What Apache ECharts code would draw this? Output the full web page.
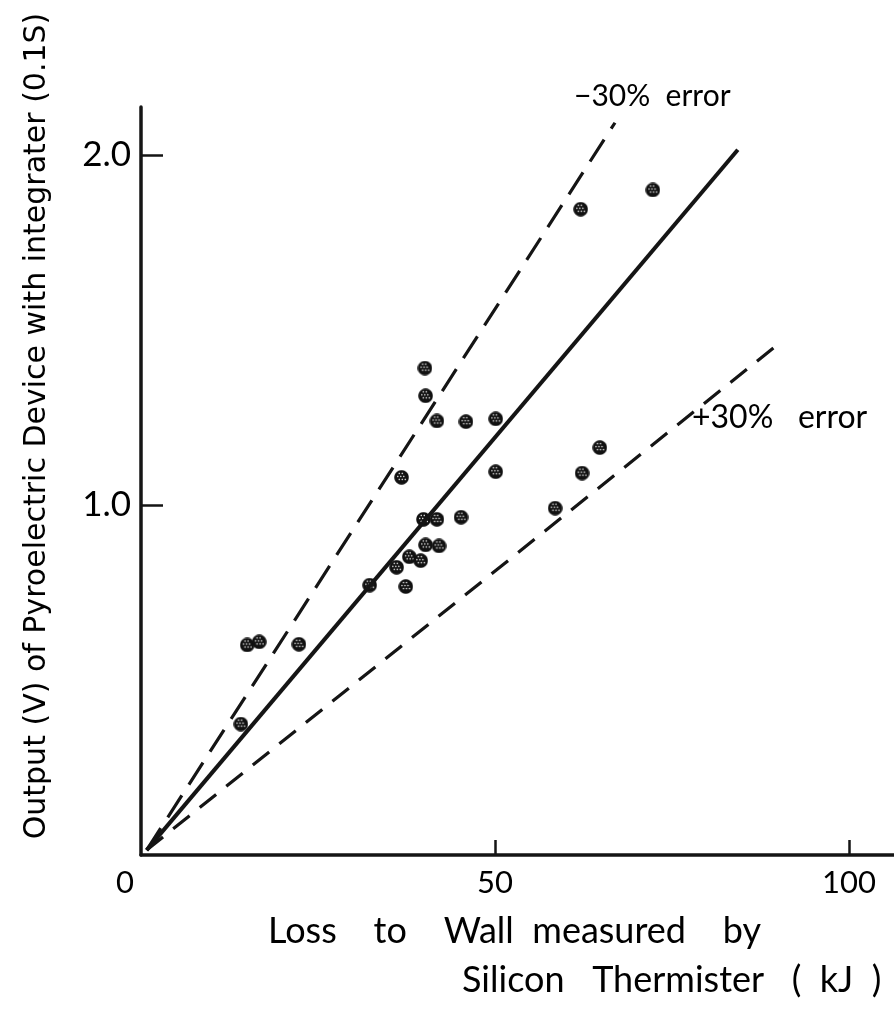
<!DOCTYPE html>
<html>
<head>
<meta charset="utf-8">
<script src="https://cdn.jsdelivr.net/npm/echarts@6/dist/echarts.min.js"></script>
<style>
html,body{margin:0;padding:0;background:#fff;}
#chart{width:894px;height:1018px;}
</style>
</head>
<body>
<div id="chart"></div>
<script>
// ---- data ----
const xTickValues = [0, 50, 100];
const yTickValues = [1.0, 2.0];
const lossToWall = [40.1, 40.2, 41.8, 45.9, 50.1, 50.1, 36.8, 39.9, 41.8, 45.2, 40.2, 42.1, 37.9, 39.5, 36.1, 32.3, 37.4, 64.8, 62.3, 58.5, 72.3, 62.1, 15.0, 16.7, 22.3, 14.1];
const pyroOutput = [1.391, 1.312, 1.240, 1.238, 1.246, 1.095, 1.079, 0.959, 0.959, 0.965, 0.886, 0.883, 0.852, 0.841, 0.822, 0.771, 0.767, 1.164, 1.091, 0.991, 1.900, 1.845, 0.600, 0.609, 0.602, 0.374];
const lineStart = [0.8, 0.014];
const fitEnd = [84.3, 2.015];
const minus30End = [66.95, 2.092];
const plus30End = [89.55, 1.452];
const xTitleLine1 = 'Loss    to    Wall  measured    by';
const xTitleLine2 = 'Silicon   Thermister   (  kJ  )';
const yTitle = 'Output (V) of Pyroelectric Device with integrater (0.1S)';
const minus30Label = '\u221230%  error';
const plus30Label = '+30%   error';

// stippled dot marker (dark disc with small white holes)
const S = 30;
const mc = document.createElement('canvas');
mc.width = S; mc.height = S;
const mctx = mc.getContext('2d');
mctx.fillStyle = '#111';
mctx.beginPath(); mctx.arc(S / 2, S / 2, S / 2 - 0.5, 0, Math.PI * 2); mctx.fill();
mctx.fillStyle = '#fff';
for (let gy = 7; gy < S - 4; gy += 6) {
  for (let gx = 7 + ((gy / 6) % 2) * 3; gx < S - 4; gx += 6) {
    const dx = gx - S / 2, dy = gy - S / 2;
    if (dx * dx + dy * dy < (S / 2 - 5) * (S / 2 - 5)) {
      mctx.beginPath(); mctx.arc(gx, gy, 1.5, 0, Math.PI * 2); mctx.fill();
    }
  }
}
const markerSymbol = 'image://' + mc.toDataURL();

const points = lossToWall.map((x, i) => [x, pyroOutput[i]]);
const ink = '#151515';
const font = 'Lato, "DejaVu Sans", sans-serif';

const chart = echarts.init(document.getElementById('chart'));
chart.setOption({
  animation: false,
  backgroundColor: '#fff',
  grid: {left: 141, right: 0, top: 107, bottom: 163, containLabel: false},
  xAxis: {
    type: 'value', min: 0, max: 106.36,
    axisLine: {lineStyle: {color: ink, width: 3.5}},
    splitLine: {show: false},
    axisTick: {show: true, inside: true, length: 15, customValues: [50, 100], lineStyle: {color: ink, width: 2.5}},
    axisLabel: {
      customValues: xTickValues, margin: 12,
      color: '#000', fontFamily: font, fontSize: 31,
      formatter: v => v === 0 ? '{z|0}' : String(v),
      rich: {z: {fontFamily: font, fontSize: 31, color: '#000', padding: [0, 32, 0, 0]}}
    }
  },
  yAxis: {
    type: 'value', min: 0, max: 2.137,
    axisLine: {lineStyle: {color: ink, width: 3.5}},
    splitLine: {show: false},
    axisTick: {show: true, inside: true, length: 22, customValues: yTickValues, lineStyle: {color: ink, width: 2.5}},
    axisLabel: {
      customValues: yTickValues, margin: 10,
      color: '#000', fontFamily: font, fontSize: 35,
      formatter: v => v.toFixed(1)
    }
  },
  series: [
    {type: 'line', data: [lineStart, fitEnd], showSymbol: false, symbol: 'none',
     lineStyle: {color: ink, width: 4, type: 'solid'}},
    {type: 'line', data: [lineStart, minus30End], showSymbol: false, symbol: 'none',
     lineStyle: {color: ink, width: 3.2, type: [26, 13]}},
    {type: 'line', data: [lineStart, plus30End], showSymbol: false, symbol: 'none',
     lineStyle: {color: ink, width: 3.2, type: [21, 13]}},
    {type: 'scatter', data: points, symbol: markerSymbol, symbolSize: 15,
     itemStyle: {opacity: 1}}
  ],
  graphic: [
    {type: 'text', left: 574, top: 81, style: {text: minus30Label, font: '30px ' + font, fill: '#000'}},
    {type: 'text', left: 692, top: 402, style: {text: plus30Label, font: '32px ' + font, fill: '#000'}},
    {type: 'text', left: 268, top: 913, style: {text: xTitleLine1, font: '36px ' + font, fill: '#000'}},
    {type: 'text', left: 462, top: 962, style: {text: xTitleLine2, font: '36px ' + font, fill: '#000'}},
    {type: 'text', x: 37, y: 426, rotation: Math.PI / 2,
     style: {text: yTitle, font: '30px "DejaVu Sans", sans-serif', fill: '#000', align: 'center', verticalAlign: 'middle'}}
  ]
});
</script>
</body>
</html>
